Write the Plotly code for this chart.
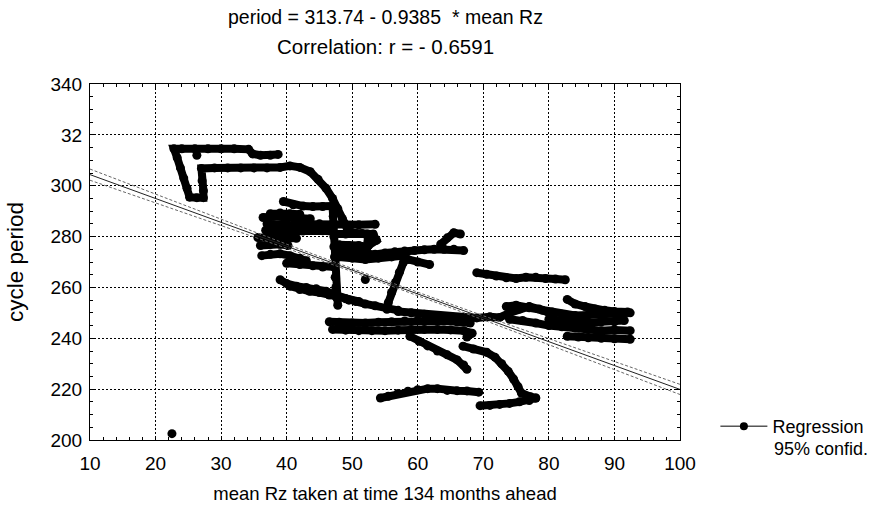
import plotly.graph_objects as go

# ---------------- data ----------------
intercept = 313.74
slope = -0.9385
x_range = [10, 100]

# regression confidence band at these x
band_x = [10, 20, 30, 40, 50, 60, 70, 80, 90, 100]
band_halfwidth = [2.2, 1.7, 1.2, 0.8, 0.6, 0.6, 0.8, 1.2, 1.6, 2.0]

# observed points, traced paths (None separates paths)
rz_mean = [
    38.7, 37.5, 36.0, 34.8, 34.2, 32, 30, 28, 26, 24, 22.8, 23.3, 23.8, 24.3, 24.8, 25.2, 26.3, 27.3, 27.3, 27.1, 27.0,
    29, 31, 33, 35, 37, 39, 40.5, 42, 43.6, 44.8, 46.0, 47.0, 47.8, 48.5, 49.2, 50.0, 51.5, 53.2, 53.7, 52.5, None,
    47.0, 47.1, 47.1, 47.2, 47.2, 47.3, 47.3, 47.4, 47.5, 47.6, 47.8, None,
    39.5, 41, 42.5, 44, 45.5, 47, None,
    36.4, 38, 40, 42, 43.6, None,
    37.5, 39, 40.5, 42, None,
    37, 39, 41, 43, 45, 47, 49, 51, 53.5, None,
    36.8, 38.5, 40.5, 42.5, 44, 45.5, 47, None,
    35.6, 37, 38.5, 40, 41.5, None,
    36.0, 37.5, 39, 40.2, None,
    36.2, 37.5, 39, 40.5, 42, 43, None,
    40, 42, 44, 45.5, 47.3, None,
    47.3, 49, 50.5, 52.3, 52.4, 52.3, 51, 49.5, 48, None,
    39, 40, 41.5, 43, 44.5, 46, 47.5, 49, 50.5, 52, 53.5, 55.3, 57, None,
    40.5, 42, 43.5, 45, 46.5, 48, 49.5, 51, None,
    57, 59, 61, 63, 65, 67, 69, 71, 72.5, 74, 75.5, 77, 78.5, 80, None,
    73.5, 75, 77, 79, 80.5, 82, 84, 86, 88, 90, 92.4, None,
    82.8, 84, 85.5, 87, 88.5, 90, 92, None,
    74, 76, 78, 80, 82, 84, 86, 88, 90, 92.4, None,
    80, 82, 84, 86, 88, 90, 91.5, None,
    82.8, 84.5, 86, 88, 90, 92.4, None,
    69, 70.5, 72, 73.5, 75, 76.5, 78, 79.5, 81, 82.5, None,
    47.5, 49, 50.5, 52, 53.5, 55, 56.5, 58, 59.5, 61, 62.5, 64, 65.5, 67, None,
    48, 50, 52, 54, 56, 58, None,
    63.5, 64.5, 65.5, 66.5, None,
    58.5, 60, 61.8, None,
    57.8, 57.2, 56.6, 56.0, 55.5, 55.3, None,
    46.5, 48, 50, 52, 54, 56, 58, 60, 62, 64, 66, 68, None,
    47, 49, 51, 53, 55, 57, 59, 61, 63, 65, 67, 68.3, 67.5, None,
    58.8, 60.2, 61.5, 63, 64.5, 66, 67, 67.5, None,
    66.9, 68.5, 70.5, 71.8, 72.8, 73.8, 74.6, 75.3, 75.8, 77.2, 78, None,
    69.5, 71, 72.5, 74, 75.5, 77, 78, None,
    54.3, 55.5, 57, 58.5, 60, 61.5, 63, 64.5, 66, 67.5, 69.3, None,
    26.3, None,
    52.0, None,
    22.5,
]
period = [
    312.3, 312.0, 312.0, 312.5, 314.3, 314.5, 314.5, 314.5, 314.5, 314.5, 314.5, 311, 307, 303, 299, 295.5, 295.3, 295.3, 298, 302, 306.8,
    307, 307, 307, 307, 307, 307.2, 307.8, 307.2, 305.5, 302.5, 299, 295, 291, 287, 283.5, 281.5, 281.2, 281.0, 278.5, 276.5, None,
    292, 288, 284, 280, 276, 272, 268, 264, 260, 256, 253, None,
    293.8, 292.5, 292, 291.8, 291.8, 292, None,
    287.5, 288, 287.5, 287.3, 287, None,
    289, 289.3, 289, 288.8, None,
    285, 284.5, 284.5, 284.8, 285, 285, 284.7, 284.6, 284.8, None,
    282.5, 282, 282, 282.2, 282.5, 282.3, 282, None,
    279.6, 279.5, 279.2, 279, 279.3, None,
    276.5, 277, 277, 276.5, None,
    272.5, 273, 273.2, 272.5, 271.5, 270.5, None,
    269.5, 269, 268.5, 268, 268, None,
    281, 281, 281.2, 281, 278, 276, 276.5, 276.5, 276.8, None,
    263, 261.5, 260.5, 260, 259.5, 258.5, 257, 255.5, 254.5, 253.5, 252.8, 252, 251, None,
    260.5, 259.2, 258.5, 258, 257, 256, 255, 254.5, None,
    250.5, 250, 249.5, 249, 248.5, 248.2, 248, 248.5, 248.2, 250, 251.5, 252.5, 251.5, 250, None,
    252.5, 253, 252, 251, 250.3, 249.5, 249, 249.2, 249.5, 249.8, 250, None,
    255.3, 253.5, 252.5, 251.5, 251, 250.5, 250.3, None,
    247.5, 247, 246, 245, 244.5, 244, 243.5, 243, 243.3, 243, None,
    247.5, 247, 246.5, 246, 246.5, 246.5, 247, None,
    240.8, 240.5, 240.2, 240, 239.8, 239.6, None,
    265.8, 265.2, 264.5, 263.8, 263.5, 264, 264, 263.5, 263.3, 263, None,
    274.5, 274, 273.5, 273, 273, 273.5, 274, 274.3, 274.5, 274.8, 275, 275, 275, 274.5, None,
    272, 271.5, 271, 271.5, 272, 272.5, None,
    277, 279.5, 281.5, 281, None,
    271, 270, 269, None,
    269.8, 266, 262, 258, 254, 251.4, None,
    246.5, 246.3, 246, 246, 246.3, 246.5, 246.8, 247, 247, 246.8, 246.5, 246, None,
    243.5, 243.2, 243, 243, 243, 243.2, 243.5, 243.5, 243.5, 243.3, 243, 242, 240.5, None,
    240.8, 238.8, 237, 235, 233.5, 231.5, 229.5, 227.8, None,
    236.9, 235.8, 234.5, 232.5, 230, 227, 224, 221, 218.5, 217, 216.5, None,
    213.5, 213.6, 214, 214.4, 215, 215.5, 216.5, None,
    216.5, 217.2, 218.3, 219.2, 219.8, 220.2, 220.2, 219.5, 219.4, 219.3, 218.8, None,
    312.0, None,
    263.1, None,
    202.5,
]

title_lines = ["period = 313.74 - 0.9385  * mean Rz", "Correlation: r = - 0.6591"]
x_title = "mean Rz taken at time 134 months ahead"
y_title = "cycle period"
y_tickvals = [200, 220, 240, 260, 280, 300, 320, 340]
y_ticktext = ["200", "220", "240", "260", "280", "300", "32", "340"]
legend_names = ["Regression", "95% confid."]

# ---------------- figure ----------------
FONT = "Liberation Sans, Arial, sans-serif"
fig = go.Figure()

reg_y = [intercept + slope * v for v in x_range]
band_center = [intercept + slope * v for v in band_x]
upper = [c + h for c, h in zip(band_center, band_halfwidth)]
lower = [c - h for c, h in zip(band_center, band_halfwidth)]

fig.add_trace(go.Scatter(x=rz_mean, y=period, mode="lines+markers",
                         line=dict(color="black", width=8),
                         marker=dict(color="black", size=9),
                         connectgaps=False, showlegend=False, hoverinfo="skip"))
fig.add_trace(go.Scatter(x=x_range, y=reg_y, mode="lines",
                         line=dict(color="#222", width=1), showlegend=False))
fig.add_trace(go.Scatter(x=band_x, y=upper, mode="lines",
                         line=dict(color="#666", width=1, dash="3px,2px"), showlegend=False))
fig.add_trace(go.Scatter(x=band_x, y=lower, mode="lines",
                         line=dict(color="#666", width=1, dash="3px,2px"), showlegend=False))
# legend entry
fig.add_trace(go.Scatter(x=[None], y=[None], mode="lines+markers", name=legend_names[0],
                         line=dict(color="black", width=1), marker=dict(color="black", size=8)))

axis_common = dict(showline=True, linecolor="black", linewidth=1, mirror="allticks",
                   showgrid=True, gridcolor="black", griddash="2px,2px", gridwidth=1,
                   ticks="inside", ticklen=4, tickcolor="black", zeroline=False,
                   automargin=False,
                   tickfont=dict(family=FONT, size=19, color="black"))

fig.update_xaxes(range=[10, 100], dtick=10, tick0=10, ticklabelstandoff=6,
                 minor=dict(dtick=2, ticks="inside", ticklen=3, tickcolor="black", showgrid=False),
                 title=dict(text=x_title, font=dict(family=FONT, size=18.5, color="black"), standoff=14),
                 **axis_common)
fig.update_yaxes(range=[200, 340], tickvals=y_tickvals, ticktext=y_ticktext, ticklabelstandoff=3,
                 minor=dict(dtick=5, ticks="inside", ticklen=3, tickcolor="black", showgrid=False),
                 title=dict(text=y_title, font=dict(family=FONT, size=22.5, color="black"), standoff=20),
                 **axis_common)

annotations = [
    dict(text=title_lines[0], x=0.5, y=1.188, xref="paper", yref="paper", showarrow=False,
         font=dict(family=FONT, size=19.5, color="black"), xanchor="center", yanchor="middle"),
    dict(text=title_lines[1], x=0.5, y=1.104, xref="paper", yref="paper", showarrow=False,
         font=dict(family=FONT, size=20.5, color="black"), xanchor="center", yanchor="middle"),
    dict(text=legend_names[1], x=(772 - 90) / 590, y=-0.024, xref="paper", yref="paper",
         showarrow=False, font=dict(family=FONT, size=18, color="black"),
         xanchor="left", yanchor="middle"),
]

fig.update_layout(
    width=882, height=509,
    margin=dict(l=90, r=202, t=84, b=69),
    plot_bgcolor="white", paper_bgcolor="white",
    annotations=annotations,
    legend=dict(x=1.06, y=0.09, xanchor="left", yanchor="top",
                font=dict(family=FONT, size=18, color="black"),
                bgcolor="rgba(0,0,0,0)", itemwidth=47),
    font=dict(family=FONT, color="black"),
)

fig.write_html("out.html")
